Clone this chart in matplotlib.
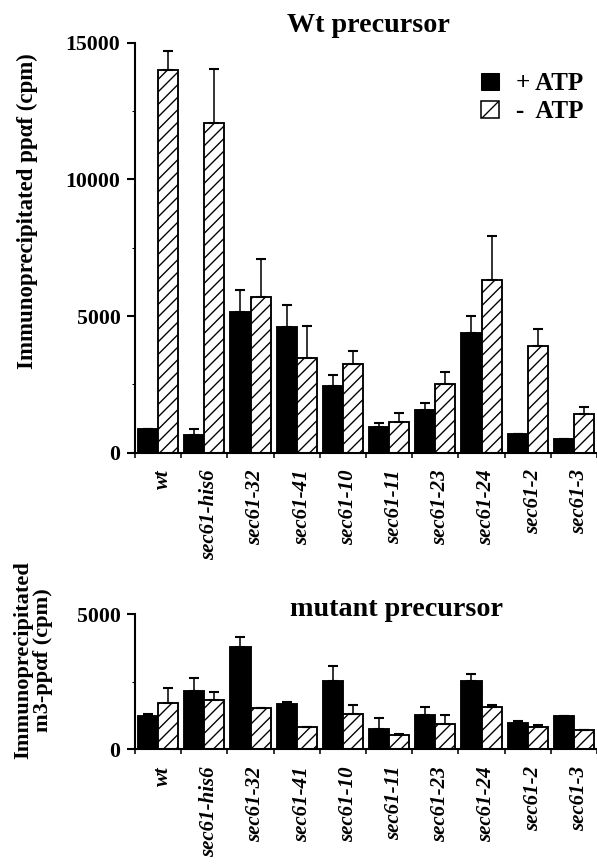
import numpy as np
import matplotlib
matplotlib.use("Agg")
from matplotlib import pyplot as plt
from matplotlib import transforms
from matplotlib.patches import Patch

plt.rcParams['font.family'] = ['Liberation Serif', 'DejaVu Serif']
plt.rcParams['font.weight'] = 'bold'
plt.rcParams['hatch.linewidth'] = 1.3

# data (cpm)
strains = ["wt", "sec61-his6", "sec61-32", "sec61-41", "sec61-10",
           "sec61-11", "sec61-23", "sec61-24", "sec61-2", "sec61-3"]

wt_plus = [850, 650, 5150, 4610, 2450, 950, 1560, 4380, 680, 510]
wt_plus_err = [0, 200, 810, 790, 380, 150, 270, 610, 0, 0]
wt_minus = [14000, 12070, 5680, 3460, 3230, 1120, 2510, 6300, 3900, 1400]
wt_minus_err = [700, 1970, 1410, 1190, 490, 340, 440, 1640, 630, 260]

mut_plus = [1240, 2160, 3780, 1680, 2540, 760, 1250, 2540, 960, 1220]
mut_plus_err = [80, 480, 380, 50, 530, 390, 320, 240, 70, 0]
mut_minus = [1710, 1840, 1530, 820, 1300, 530, 950, 1550, 820, 720]
mut_minus_err = [560, 260, 0, 0, 320, 30, 310, 90, 80, 0]

W, H = 597, 865
DPI = 75
fig = plt.figure(figsize=(W / DPI, H / DPI), dpi=DPI)

x = np.arange(len(strains))
bw = 0.433


def draw_panel(ax, plus, plus_err, minus, minus_err, ymax, ystep):
    ax.bar(x - bw / 2, plus, bw, color='black', edgecolor='black', linewidth=1.8)
    ax.bar(x + bw / 2, minus, bw, color='white', edgecolor='black',
           linewidth=1.8, hatch='//')
    ax.errorbar(x - bw / 2, plus, yerr=[np.zeros(len(plus)), plus_err],
                fmt='none', ecolor='black', elinewidth=1.5, capsize=5, capthick=2)
    ax.errorbar(x + bw / 2, minus, yerr=[np.zeros(len(minus)), minus_err],
                fmt='none', ecolor='black', elinewidth=1.5, capsize=5, capthick=2)
    ax.set_xlim(-0.5, len(strains) - 0.5)
    ax.set_ylim(0, ymax)
    for s in ['top', 'right']:
        ax.spines[s].set_visible(False)
    for s in ['left', 'bottom']:
        ax.spines[s].set_linewidth(2)
    ax.set_yticks(np.arange(0, ymax + 1, ystep))
    ax.set_yticks(np.arange(ystep / 2, ymax, ystep), minor=True)
    ax.set_yticklabels([str(int(v)) for v in np.arange(0, ymax + 1, ystep)],
                       fontsize=21, fontweight='bold')
    ax.tick_params(axis='y', which='major', length=8, width=2, pad=6)
    ax.tick_params(axis='y', which='minor', length=3, width=1)
    ax.set_xticks(x)
    ax.set_xticks(np.arange(-0.5, len(strains)), minor=True)
    ax.set_xticklabels(strains, rotation=90, fontsize=20,
                       fontweight='bold', fontstyle='italic')
    ax.tick_params(axis='x', which='major', length=0, pad=16)
    ax.tick_params(axis='x', which='minor', length=5, width=1.5)
    shift = transforms.ScaledTranslation(5 / DPI, 0, fig.dpi_scale_trans)
    for lab in ax.get_xticklabels():
        lab.set_transform(lab.get_transform() + shift)


ax1 = fig.add_axes([135 / W, 1 - 452.7 / H, (W - 135) / W, 410 / H])
draw_panel(ax1, wt_plus, wt_plus_err, wt_minus, wt_minus_err, 15000, 5000)

ax2 = fig.add_axes([135 / W, 1 - 749.3 / H, (W - 135) / W, 135.3 / H])
draw_panel(ax2, mut_plus, mut_plus_err, mut_minus, mut_minus_err, 5000, 5000)

fig.text(368 / W, 1 - 32 / H, "Wt precursor", fontsize=27, fontweight='bold',
         ha='center', va='baseline')
fig.text(396 / W, 1 - 616 / H, "mutant precursor", fontsize=27,
         fontweight='bold', ha='center', va='baseline')

fig.text(27 / W, 1 - 211 / H, "Immunoprecipitated pp\u03b1f (cpm)", fontsize=22,
         fontweight='bold', rotation=90, ha='center', va='center')
fig.text(33 / W, 1 - 660 / H, "Immunoprecipitated\nm3-pp\u03b1f (cpm)",
         fontsize=21.5, fontweight='bold', rotation=90, ha='center',
         va='center', multialignment='center', linespacing=1.0)

handles = [Patch(facecolor='black', edgecolor='black'),
           Patch(facecolor='white', edgecolor='black', hatch='/', linewidth=1.5)]
fig.legend(handles, ["+ ATP", "-  ATP"], loc='upper left',
           bbox_to_anchor=(481 / W, 1 - 72 / H), frameon=False,
           prop={'family': 'Liberation Serif', 'weight': 'bold', 'size': 24},
           handlelength=0.7, handleheight=0.7, handletextpad=0.7,
           labelspacing=0.2, borderpad=0, borderaxespad=0)

fig.savefig("out.png", dpi=DPI)
